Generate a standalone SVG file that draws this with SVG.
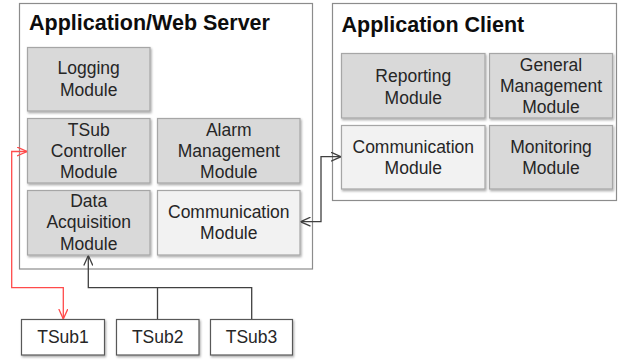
<svg xmlns="http://www.w3.org/2000/svg" width="619" height="360" viewBox="0 0 619 360">
<style>
.cont{fill:#ffffff;stroke:#8c8c8c;stroke-width:1.2}
.mod{fill:#d9d9d9;stroke:#a6a6a6;stroke-width:1.2;filter:url(#sh)}
.lmod{fill:#f2f2f2;stroke:#a6a6a6;stroke-width:1.2;filter:url(#sh)}
.ts{fill:#ffffff;stroke:#595959;stroke-width:1.2;filter:url(#sh)}
.title{font-family:"Liberation Sans",Arial,sans-serif;font-weight:bold;font-size:21.5px;fill:#0d0d0d}
.lbl{font-family:"Liberation Sans",Arial,sans-serif;font-size:17.5px;fill:#262626;text-anchor:middle}
.blk{fill:none;stroke:#404040;stroke-width:1.3}
.red{fill:none;stroke:#ff4b4b;stroke-width:1.3}
</style>
<defs>
<filter id="sh" x="-10%" y="-10%" width="120%" height="130%">
<feDropShadow dx="1" dy="1.5" stdDeviation="0.8" flood-color="#000" flood-opacity="0.35"/>
</filter>
<marker id="ab" viewBox="0 0 10 10" refX="10" refY="5" markerWidth="10" markerHeight="10" markerUnits="userSpaceOnUse" orient="auto-start-reverse">
<path d="M0,0.5 L10,5 L0,9.5" fill="none" stroke="#404040" stroke-width="1.3"/>
</marker>
<marker id="ar" viewBox="0 0 10 10" refX="10" refY="5" markerWidth="10" markerHeight="10" markerUnits="userSpaceOnUse" orient="auto-start-reverse">
<path d="M0,0.5 L10,5 L0,9.5" fill="none" stroke="#ff4b4b" stroke-width="1.3"/>
</marker>
</defs>

<g id="server">
<rect class="cont" x="19.5" y="3.5" width="293" height="265.5"/>
<text class="title" x="29" y="30">Application/Web Server</text>
</g>
<g id="client">
<rect class="cont" x="332.5" y="3.5" width="284" height="197"/>
<text class="title" x="341.5" y="32">Application Client</text>
</g>

<g id="logging">
<rect class="mod" x="27.5" y="47.5" width="122.5" height="63.5"/>
<text class="lbl" x="88.7" y="74.3">Logging</text>
<text class="lbl" x="88.7" y="95.7">Module</text>
</g>
<g id="tsubctrl">
<rect class="mod" x="27.5" y="118.5" width="122.5" height="64.5"/>
<text class="lbl" x="88.7" y="135.7">TSub</text>
<text class="lbl" x="88.7" y="157">Controller</text>
<text class="lbl" x="88.7" y="178.3">Module</text>
</g>
<g id="alarm">
<rect class="mod" x="157.5" y="118.5" width="142.5" height="64.5"/>
<text class="lbl" x="228.8" y="135.7">Alarm</text>
<text class="lbl" x="228.8" y="157">Management</text>
<text class="lbl" x="228.8" y="178.3">Module</text>
</g>
<g id="dataacq">
<rect class="mod" x="27.5" y="190.5" width="122.5" height="64.5"/>
<text class="lbl" x="88.7" y="207">Data</text>
<text class="lbl" x="88.7" y="228.3">Acquisition</text>
<text class="lbl" x="88.7" y="249.5">Module</text>
</g>
<g id="servercomm">
<rect class="lmod" x="157.5" y="190.5" width="142.5" height="64.5"/>
<text class="lbl" x="228.8" y="217.7">Communication</text>
<text class="lbl" x="228.8" y="238.7">Module</text>
</g>

<g id="reporting">
<rect class="mod" x="341.5" y="53.5" width="143.5" height="64.5"/>
<text class="lbl" x="413.3" y="82.3">Reporting</text>
<text class="lbl" x="413.3" y="103.5">Module</text>
</g>
<g id="general">
<rect class="mod" x="489.5" y="53.5" width="123" height="64.5"/>
<text class="lbl" x="551" y="71">General</text>
<text class="lbl" x="551" y="92.3">Management</text>
<text class="lbl" x="551" y="113">Module</text>
</g>
<g id="clientcomm">
<rect class="lmod" x="341.5" y="125.5" width="143.5" height="63.5"/>
<text class="lbl" x="413.3" y="152.7">Communication</text>
<text class="lbl" x="413.3" y="173.5">Module</text>
</g>
<g id="monitoring">
<rect class="mod" x="489.5" y="125.5" width="123" height="63.5"/>
<text class="lbl" x="551" y="152.7">Monitoring</text>
<text class="lbl" x="551" y="173.5">Module</text>
</g>

<g id="tsub1">
<rect class="ts" x="21.5" y="319.5" width="83" height="35.5"/>
<text class="lbl" x="63" y="342.5">TSub1</text>
</g>
<g id="tsub2">
<rect class="ts" x="116.5" y="319.5" width="82.5" height="35.5"/>
<text class="lbl" x="157.7" y="342.5">TSub2</text>
</g>
<g id="tsub3">
<rect class="ts" x="210.5" y="319.5" width="82" height="35.5"/>
<text class="lbl" x="251.5" y="342.5">TSub3</text>
</g>

<g id="connectors">
<path class="blk" d="M300.5,221.7 H321 V156.7 H341" marker-start="url(#ab)" marker-end="url(#ab)"/>
<path class="red" d="M27,151.5 H11.7 V287.7 H63.3 V319" marker-start="url(#ar)" marker-end="url(#ar)"/>
<path class="blk" d="M157.5,319 V287.7 H88.3 V255.5"  marker-end="url(#ab)"/>
<path class="blk" d="M251.7,319 V287.7 H157.5"/>
</g>
</svg>
